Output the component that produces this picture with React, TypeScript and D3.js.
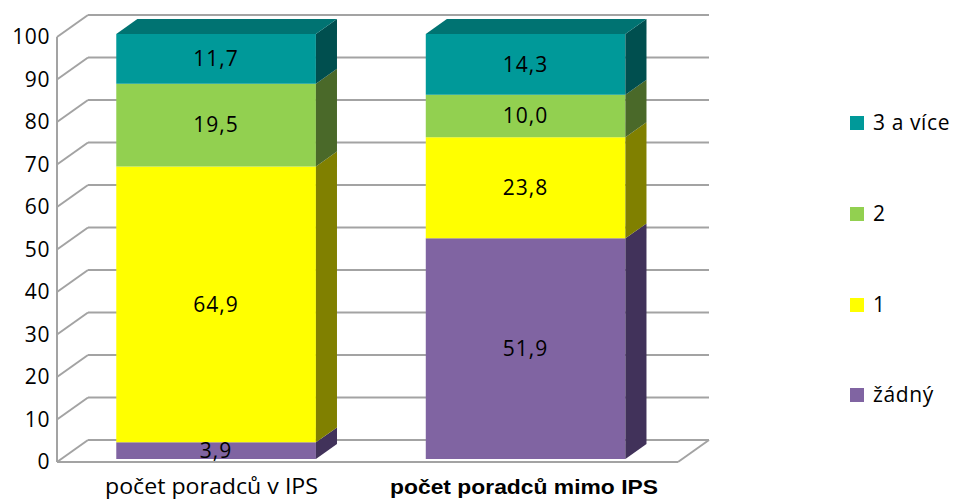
import React from "react";
import * as d3 from "d3";

const categories = ["počet poradců v IPS", "počet poradců mimo IPS"];
const seriesNames = ["žádný", "1", "2", "3 a více"];
const zadny = [3.9, 51.9];
const jedna = [64.9, 23.8];
const dva = [19.5, 10.0];
const triVice = [11.7, 14.3];
const yTicks = [0, 10, 20, 30, 40, 50, 60, 70, 80, 90, 100];

const frontColors = ["#8064a2", "#ffff00", "#92d050", "#009999"];
const sideColors = ["#41325a", "#808000", "#4a6929", "#004f4f"];
const topColors = ["#5f4b7a", "#bfbf00", "#6e9c3c", "#007372"];

const W = 957;
const H = 499;
const DX = 31;
const DY = -22;
const F0 = 0.14;
const F1 = 0.82;
const FONT = "'Open Sans', 'DejaVu Sans', sans-serif";

export default function App() {
  const x = d3
    .scaleBand<string>()
    .domain(categories)
    .range([57, 676])
    .paddingInner(0.355)
    .paddingOuter(0.1775);
  const y = d3.scaleLinear().domain([0, 100]).range([462, 37]);

  const seriesValues = [zadny, jedna, dva, triVice];
  const rows = categories.map((c, i) => {
    const r: any = { cat: c };
    seriesNames.forEach((s, k) => (r[s] = seriesValues[k][i]));
    return r;
  });
  const stacked = d3.stack<any>().keys(seriesNames)(rows);

  const pt = (px: number, py: number, f: number) =>
    `${px + DX * f},${py + DY * f}`;

  const grid = "#a3a3a3";
  const x0 = 57;
  const x1 = 678;

  return (
    <svg width={W} height={H} style={{ position: "absolute", left: 0, top: 0 }}>
      <rect width={W} height={H} fill="#fff" />
      {yTicks.map((t) => (
        <g key={t}>
          <line
            x1={x0 + DX}
            x2={x1 + DX}
            y1={y(t) + DY}
            y2={y(t) + DY}
            stroke={grid}
            strokeWidth={2}
          />
          <line
            x1={x0}
            y1={y(t)}
            x2={x0 + DX}
            y2={y(t) + DY}
            stroke={grid}
            strokeWidth={2}
          />
        </g>
      ))}
      <line x1={x0} x2={x1} y1={y(0)} y2={y(0)} stroke={grid} strokeWidth={2} />
      <line
        x1={x1}
        y1={y(0)}
        x2={x1 + DX}
        y2={y(0) + DY}
        stroke={grid}
        strokeWidth={2}
      />
      <line x1={x0} x2={x0} y1={y(0)} y2={y(100)} stroke={grid} strokeWidth={2} />
      {yTicks.map((t) => (
        <text
          key={"l" + t}
          x={50}
          y={y(t)}
          dy="0.35em"
          textAnchor="end"
          fontFamily={FONT}
          fontSize={21}
          letterSpacing={0.6}
          fill="#000"
        >
          {t}
        </text>
      ))}
      {categories.map((c, i) => {
        const bx = x(c)!;
        const bw = x.bandwidth();
        return (
          <g key={c}>
            {stacked.map((s, k) => {
              const v0 = s[i][0];
              const v1 = s[i][1];
              const yb = y(v0);
              const yt = y(v1);
              const isTop = k === stacked.length - 1;
              return (
                <g key={k}>
                  <polygon
                    points={[
                      pt(bx, yb, F0),
                      pt(bx + bw, yb, F0),
                      pt(bx + bw, yt, F0),
                      pt(bx, yt, F0),
                    ].join(" ")}
                    fill={frontColors[k]}
                  />
                  <polygon
                    points={[
                      pt(bx + bw, yb, F0),
                      pt(bx + bw, yb, F1),
                      pt(bx + bw, yt, F1),
                      pt(bx + bw, yt, F0),
                    ].join(" ")}
                    fill={sideColors[k]}
                  />
                  {isTop && (
                    <polygon
                      points={[
                        pt(bx, yt, F0),
                        pt(bx + bw, yt, F0),
                        pt(bx + bw, yt, F1),
                        pt(bx, yt, F1),
                      ].join(" ")}
                      fill={topColors[k]}
                    />
                  )}
                </g>
              );
            })}
            {stacked.map((s, k) => {
              const v = s[i][1] - s[i][0];
              const ym = (y(s[i][0]) + y(s[i][1])) / 2 + DY * F0;
              return (
                <text
                  key={"t" + k}
                  x={bx + bw / 2 + DX * F0}
                  y={ym}
                  dy="0.35em"
                  textAnchor="middle"
                  fontFamily={FONT}
                  fontSize={21}
                  letterSpacing={1}
                  fill="#000"
                >
                  {d3.format(".1f")(v).replace(".", ",")}
                </text>
              );
            })}
          </g>
        );
      })}
      <text
        x={211.5}
        y={494}
        textAnchor="middle"
        fontFamily={FONT}
        fontSize={21}
        textLength={213}
        lengthAdjust="spacingAndGlyphs"
      >
        {categories[0]}
      </text>
      <text
        x={524}
        y={494}
        textAnchor="middle"
        fontFamily="'Liberation Sans', Arial, sans-serif"
        fontWeight="bold"
        fontSize={20}
        textLength={268}
        lengthAdjust="spacingAndGlyphs"
      >
        {categories[1]}
      </text>
      {[3, 2, 1, 0].map((k, j) => {
        const cy = [123, 214, 305, 395][j];
        return (
          <g key={"lg" + k}>
            <rect x={850} y={cy - 7} width={14} height={14} fill={frontColors[k]} />
            <text
              x={873}
              y={cy}
              dy="0.35em"
              fontFamily={FONT}
              fontSize={21}
              letterSpacing={0.6}
              fill="#000"
            >
              {seriesNames[k]}
            </text>
          </g>
        );
      })}
    </svg>
  );
}
